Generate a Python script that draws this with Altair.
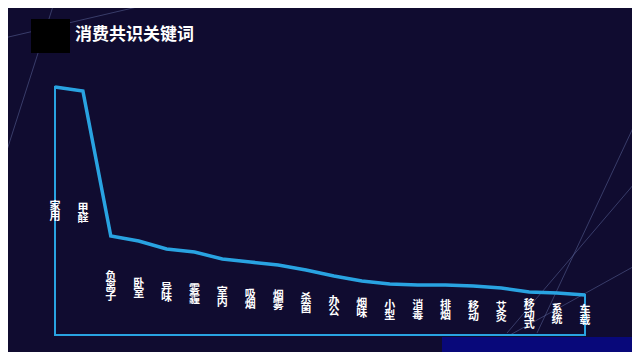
import altair as alt
import pandas as pd

categories = ["家用", "甲醛", "负离子", "卧室", "异味", "雾霾", "室内", "吸烟", "烟雾", "杀菌",
              "办公", "烟味", "小型", "消毒", "排烟", "移动", "艾灸", "移动式", "系统", "车载"]
values = [248, 244, 99, 94, 86, 83, 76, 73, 70, 65, 59, 54, 51, 50, 50, 49, 47, 43, 42, 40]
title_text = "消费共识关键词"

BG = "#100c30"
LINE = "#29a3e1"
FONT = "Noto Sans CJK SC"
LH = 10           # label line height in px
Y_MAX = 248       # y domain max; plot height is 248 px, so 1 unit == 1 px

df = pd.DataFrame({
    "keyword": categories,
    "value": values,
    "label": ["\n".join(list(c)) for c in categories],
})

x_enc = alt.X("keyword:N", sort=None, axis=None,
              scale=alt.Scale(type="point", padding=0))
y_scale = alt.Scale(domain=[0, Y_MAX], nice=False, zero=True)

base = alt.Chart(df)

# decorative background lines (not data)
deco = pd.DataFrame({
    "x1": [-55, 0, 585, 585, 585],
    "y1": [-48, -87, 26, 90, 176],
    "x2": [112, -55, 482, 452, 455],
    "y2": [-87, 85, 246, 246, 248],
})
deco_lines = alt.Chart(deco).mark_rule(color="#6a78b0", strokeWidth=1, opacity=0.45).encode(
    x=alt.X("x1:Q", scale=None), y=alt.Y("y1:Q", scale=None),
    x2="x2:Q", y2="y2:Q",
)

area = base.mark_area(fill="transparent", stroke=LINE, strokeWidth=2).encode(
    x=x_enc,
    y=alt.Y("value:Q", scale=y_scale, axis=None),
)

line = base.mark_line(color=LINE, strokeWidth=3.5).encode(
    x=x_enc,
    y=alt.Y("value:Q", scale=y_scale, axis=None),
)

# vertical labels centred at half of each value (multi-line block centred)
labels = base.transform_calculate(
    mid=f"datum.value / 2 + (length(datum.keyword) - 1) * {LH} / 2",
).mark_text(color="white", fontSize=11, fontWeight="bold", font=FONT, dy=1,
            lineBreak="\n", lineHeight=LH, baseline="middle", align="center").encode(
    x=x_enc,
    y=alt.Y("mid:Q", scale=y_scale, axis=None),
    text="label:N",
)

square = alt.Chart(pd.DataFrame({"a": [0]})).mark_rect(color="black").encode(
    x=alt.value(-24), x2=alt.value(15), y=alt.value(-68), y2=alt.value(-34),
)

title = alt.Chart(pd.DataFrame({"t": [title_text]})).mark_text(
    color="white", fontSize=17, fontWeight="bold", font=FONT,
    align="left", baseline="middle",
).encode(x=alt.value(20), y=alt.value(-52), text="t:N")

band = alt.Chart(pd.DataFrame({"a": [0]})).mark_rect(color="#08087a").encode(
    x=alt.value(387), x2=alt.value(590), y=alt.value(250), y2=alt.value(275),
)

chart = alt.layer(deco_lines, area, line, labels, square, title, band).properties(
    width=530,
    height=248,
    padding={"left": 47, "top": 79, "right": 47, "bottom": 17},
    autosize=alt.AutoSizeParams(type="none"),
    background=BG,
).configure_view(stroke=None)

chart.save("out.html", embed_options={"renderer": "svg", "actions": False})
